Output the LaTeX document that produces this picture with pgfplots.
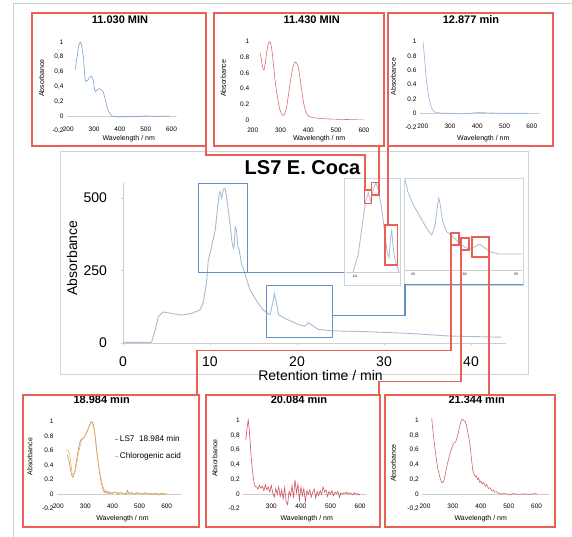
\documentclass[border=0pt]{standalone}
\usepackage{fontspec}
\setmainfont{Liberation Sans}
\usepackage{pgfplots}
\pgfplotsset{compat=1.18}
\definecolor{framec}{RGB}{205,212,222}
\definecolor{chrom}{RGB}{165,188,212}
\definecolor{axgray}{RGB}{205,205,205}
\definecolor{specblue}{RGB}{120,160,215}
\definecolor{specred}{RGB}{215,110,115}
\definecolor{speclblue}{RGB}{145,182,225}
\definecolor{lsseven}{RGB}{200,135,90}
\definecolor{chloro}{RGB}{232,185,95}
\definecolor{specredb}{RGB}{205,85,95}
\definecolor{specredc}{RGB}{210,100,100}
\definecolor{redline}{RGB}{232,96,86}
\definecolor{blueline}{RGB}{100,145,195}
\pgfplotsset{
  spec/.style={scale only axis, anchor=south west,
    axis line style={draw=none}, major tick length=0pt,
    /pgf/number format/assume math mode=true,
    tick label style={font=\fontsize{6.5}{7}\selectfont},
    label style={font=\fontsize{7}{8}\selectfont},
    title style={font=\bfseries\fontsize{11}{12}\selectfont, anchor=center},
    xtick={200,300,400,500,600},
    ytick={-0.2,0,0.2,0.4,0.6,0.8,1},
    yticklabel style={/pgf/number format/fixed,/pgf/number format/precision=1},
    xlabel={Wavelength / nm}, ylabel={Absorbance},
    every axis plot/.append style={line width=0.6pt},
  },
}
\begin{document}
\begin{tikzpicture}
% outer frame
\draw[draw=axgray, line width=0.6pt] (13pt,0pt) -- (13pt,534pt) -- (572pt,534pt);
% main frame
\draw[draw=framec, line width=0.6pt] (60pt,163pt) rectangle (528pt,386pt);

% ---------------- main chromatogram
\begin{axis}[at={(123pt,194pt)}, anchor=south west, scale only axis,
  width=382.8pt, height=159.5pt, xmin=0, xmax=44, ymin=0, ymax=550,
  axis x line*=bottom, axis y line*=left,
  axis line style={draw=axgray, line width=0.6pt},
  xtick={0,10,20,30,40}, ytick={0,250,500},
  tick align=outside, major tick length=2.5pt, tick style={draw=axgray},
  /pgf/number format/assume math mode=true,
  tick label style={font=\fontsize{14}{16}\selectfont},
  xticklabel style={anchor=center, yshift=-16pt},
  yticklabel style={anchor=east, xshift=-10pt},
  title={LS7 E. Coca},
  title style={at={(axis description cs:0.469,1.06)}, anchor=center, font=\bfseries\fontsize{20}{23}\selectfont},
  xlabel={Retention time / min}, ylabel={Absorbance},
  label style={font=\fontsize{14}{16}\selectfont},
  xlabel style={at={(axis description cs:0.516,-0.205)}, anchor=center},
  ylabel style={at={(axis description cs:-0.133,0.533)}, anchor=center},
]
\addplot[chrom, line width=0.9pt] coordinates {
(0,2) (3.2,2) (3.3,4) (3.7,45) (4.06,91) (4.6,107) (5.6,102) (6.7,96) (7.9,102)
(8.85,114) (9.2,137) (9.6,206) (9.8,286) (10.1,321) (10.3,349) (10.6,390)
(10.85,459) (11.07,516) (11.15,522) (11.34,499) (11.53,530) (11.72,533) (11.9,505)
(12.2,436) (12.5,355) (12.68,326) (12.8,338) (12.9,401) (13.05,390) (13.2,332)
(13.35,321) (13.6,275) (14.0,240) (14.6,183) (15.4,143) (16.1,114) (16.9,97)
(17.2,137) (17.4,171) (17.6,143) (17.9,97) (18.6,85) (19.4,74) (20.3,62) (20.9,58)
(21.3,70) (21.8,60) (22.45,47) (24,42) (28,39) (33,33) (37.5,24) (43.5,20)
};
\end{axis}

% ---------------- inset 1 (main peak)
\draw[draw=framec, line width=0.6pt] (344pt,252pt) rectangle (400pt,359pt);
\begin{axis}[at={(344pt,265pt)}, anchor=south west, scale only axis,
  width=56pt, height=94pt, xmin=9.14, xmax=13.62, ymin=292, ymax=546,
  axis x line*=bottom, axis y line=none,
  axis line style={draw=axgray, line width=0.4pt},
  xtick={10}, major tick length=0pt,
  /pgf/number format/assume math mode=true,
  tick label style={font=\fontsize{3.5}{4}\selectfont},
]
\addplot[chrom, line width=0.8pt] coordinates {
(9.86,292) (10.28,340) (10.64,429) (10.9,487) (11.08,506) (11.28,483) (11.48,516)
(11.7,533) (11.88,516) (12.16,462) (12.42,390) (12.6,345) (12.74,331) (12.88,390)
(12.96,403) (13.04,372) (13.16,335) (13.36,308) (13.56,292)
};
\end{axis}

% ---------------- inset 2 (15-25 min)
\draw[draw=framec, line width=0.6pt] (404pt,252pt) rectangle (523pt,359pt);
\begin{axis}[at={(405pt,267pt)}, anchor=south west, scale only axis,
  width=117pt, height=92pt, xmin=14.22, xmax=25.58, ymin=0, ymax=92,
  axis x line*=bottom, axis y line=none,
  axis line style={draw=axgray, line width=0.4pt},
  xtick={15,20,25}, major tick length=0pt,
  /pgf/number format/assume math mode=true,
  tick label style={font=\fontsize{3.5}{4}\selectfont},
]
\addplot[chrom, line width=0.8pt] coordinates {
(14.22,90.7) (14.54,76.7) (15.03,65) (15.68,53.3) (16.33,41.7) (16.82,35) (17.14,45)
(17.36,63.3) (17.5,71.7) (17.62,66.7) (17.88,48.3) (18.27,38.3) (18.91,32.7)
(19.56,26.7) (20.05,22.7) (20.53,20.7) (21.02,23.3) (21.44,26) (21.89,22.7)
(22.48,18.3) (23.28,16) (24.42,16) (25.55,16)
};
\end{axis}

% ---------------- panel 1: 11.030 MIN
\begin{axis}[spec, at={(67pt,406.2pt)}, width=109.7pt, height=96.2pt,
  xmin=195, xmax=620, ymin=-0.2, ymax=1.1,
  /pgf/number format/use comma,
  xticklabel style={anchor=center, yshift=2pt},
  title={11.030 MIN}, title style={at={(axis description cs:0.483,1.089)}},
  xlabel style={at={(axis description cs:0.563,-0.078)}, anchor=center},
  ylabel style={at={(axis description cs:-0.231,0.546)}, anchor=center},
]
\draw[axgray, line width=0.5pt] (axis cs:195,0) -- (axis cs:620,0);
\addplot[specblue] coordinates {
(226,0.62) (234,0.80) (240,0.95) (246,1.00) (251,0.97) (255,0.88) (259,0.78) (263,0.58)
(266,0.47) (270,0.47) (275,0.48) (280,0.51) (285,0.53) (290,0.54) (294,0.51) (298,0.45)
(302,0.35) (306,0.33) (310,0.35) (315,0.36) (320,0.37) (325,0.36) (330,0.35) (336,0.32)
(341,0.25) (346,0.18) (351,0.11) (356,0.06) (362,0.03) (370,0.00) (385,-0.01) (400,-0.01)
(450,-0.01) (500,0.00) (550,-0.005) (590,0.00)
};
\end{axis}

% ---------------- panel 2: 11.430 MIN
\begin{axis}[spec, at={(252.7pt,417pt)}, width=115.4pt, height=86.1pt,
  xmin=200, xmax=615, ymin=0, ymax=1.1,
  ytick={0,0.2,0.4,0.6,0.8,1},
  xticklabel style={anchor=center, yshift=-10.7pt},
  title={11.430 MIN}, title style={at={(axis description cs:0.511,1.092)}},
  xlabel style={at={(axis description cs:0.576,-0.213)}, anchor=center},
  ylabel style={at={(axis description cs:-0.255,0.484)}, anchor=center},
]
\draw[axgray, line width=0.5pt] (axis cs:200,0) -- (axis cs:615,0);
\addplot[specred] coordinates {
(228,0.85) (233,0.72) (237,0.65) (241,0.64) (245,0.72) (250,0.86) (255,0.96) (260,1.00)
(264,0.99) (268,0.92) (272,0.80) (276,0.66) (280,0.52) (285,0.38) (291,0.25) (297,0.14)
(303,0.08) (308,0.06) (312,0.06) (317,0.10) (322,0.16) (327,0.28) (333,0.43) (339,0.57)
(345,0.68) (350,0.73) (354,0.74) (358,0.73) (363,0.69) (368,0.59) (373,0.46) (378,0.33)
(383,0.22) (388,0.14) (394,0.08) (400,0.05) (415,0.03) (430,0.025) (460,0.015)
(500,0.01) (550,0.005) (600,0.0)
};
\end{axis}

% ---------------- panel 3: 12.877 min
\begin{axis}[spec, at={(420pt,409.4pt)}, width=119.9pt, height=93.2pt,
  xmin=190, xmax=630, ymin=-0.2, ymax=1.1,
  xticklabel style={anchor=center, yshift=1.6pt},
  title={12.877 min}, title style={at={(axis description cs:0.425,1.09)}},
  xlabel style={at={(axis description cs:0.528,-0.115)}, anchor=center},
  ylabel style={at={(axis description cs:-0.223,0.546)}, anchor=center},
]
\draw[axgray, line width=0.5pt] (axis cs:190,0) -- (axis cs:630,0);
\addplot[speclblue] coordinates {
(201,1.00) (204,0.88) (206,0.79) (209,0.66) (211,0.56) (214,0.45) (218,0.33) (222,0.23)
(227,0.14) (232,0.08) (236,0.05) (242,0.02) (250,0.01) (275,0.0) (305,0.0) (342,-0.01)
(370,0.0) (402,0.01) (440,0.005) (489,0.0) (540,0.0) (587,0.0)
};
\end{axis}

% ---------------- panel 4: 18.984 min
\begin{axis}[spec, at={(56.9pt,28.5pt)}, width=124.7pt, height=94pt,
  xmin=195, xmax=655, ymin=-0.2, ymax=1.1,
  xticklabel style={anchor=center, yshift=2.5pt},
  title={18.984 min}, title style={at={(axis description cs:0.359,1.09)}},
  xlabel style={at={(axis description cs:0.526,-0.104)}, anchor=center},
  ylabel style={at={(axis description cs:-0.216,0.551)}, anchor=center},
  legend style={at={(axis description cs:0.46,0.80)}, anchor=north west, draw=none, fill=none,
    font=\fontsize{8.2}{9.5}\selectfont, row sep=6pt, inner sep=0pt},
  legend cell align=left,
  legend image code/.code={\draw[#1, line width=0.5pt] (0pt,0pt) -- (3pt,0pt);},
]
\draw[axgray, line width=0.5pt] (axis cs:195,0) -- (axis cs:655,0);
\addplot[lsseven] coordinates {
(234,0.54) (240,0.45) (246,0.32) (252,0.23) (257,0.25) (262,0.33) (268,0.48) (274,0.62)
(280,0.72) (286,0.76) (292,0.77) (298,0.80) (304,0.85) (310,0.90) (316,0.96) (321,1.00)
(326,0.99) (331,0.92) (336,0.80) (341,0.62) (347,0.44) (353,0.28) (359,0.15) (365,0.06)
(370,0.02) (375,0.04) (380,0.01) (385,0.03) (390,0.0) (395,0.02) (400,0.01) (410,0.03)
(420,0.0) (430,0.02) (440,0.01) (450,0.0) (455,0.05) (460,0.01) (470,0.02) (480,0.0)
(490,0.02) (500,0.01) (510,0.0) (520,0.02) (530,0.0) (540,0.01) (550,0.0) (560,0.01)
(570,-0.01) (580,0.01) (590,0.0) (600,0.0)
};
\addlegendentry{LS7~~18.984 min}
\addplot[chloro] coordinates {
(230,0.61) (236,0.60) (242,0.55) (248,0.38) (252,0.27) (256,0.26) (261,0.30) (267,0.40)
(273,0.53) (280,0.66) (286,0.74) (292,0.77) (298,0.80) (304,0.84) (310,0.89) (316,0.95)
(323,1.00) (328,0.98) (333,0.90) (338,0.75) (343,0.57) (350,0.38) (356,0.25) (362,0.14)
(368,0.07) (375,0.04) (385,0.03) (400,0.02) (450,0.01) (500,0.01) (550,0.0) (600,0.0)
};
\addlegendentry{Chlorogenic acid}
\end{axis}

% ---------------- panel 5: 20.084 min
\begin{axis}[spec, at={(243.2pt,28pt)}, width=123.4pt, height=95.7pt,
  xmin=205, xmax=622, ymin=-0.2, ymax=1.1,
  /pgf/number format/use comma,
  xticklabel style={anchor=center, yshift=2.5pt},
  title={20.084 min}, title style={at={(axis description cs:0.452,1.076)}},
  xlabel style={at={(axis description cs:0.515,-0.097)}, anchor=center},
  ylabel style={at={(axis description cs:-0.229,0.53)}, anchor=center},
]
\draw[axgray, line width=0.5pt] (axis cs:205,0) -- (axis cs:622,0);
\addplot[specredb] coordinates {
(214,0.74) (218,0.90) (222,1.01) (225,0.90) (228,0.74) (232,0.50) (236,0.33) (240,0.20)
(243,0.13) (247,0.10) (250,0.10) (255,0.07) (260,0.12) (265,0.08) (270,0.11) (275,0.05)
(280,0.13) (285,0.06) (290,0.10) (295,0.03) (300,0.12) (305,0.02) (310,-0.04) (315,0.08)
(320,0.0) (325,0.10) (330,-0.03) (335,0.06) (340,-0.06) (345,0.09) (350,-0.10) (355,-0.14)
(360,0.04) (365,-0.02) (370,0.12) (375,-0.05) (380,0.20) (385,0.02) (390,0.14) (395,-0.08)
(400,0.10) (405,-0.02) (410,0.08) (415,-0.10) (420,0.05) (425,0.0) (430,0.06) (435,-0.04)
(440,0.03) (445,0.07) (450,-0.05) (455,0.04) (460,-0.02) (465,0.05) (470,0.0) (475,0.10)
(480,0.03) (485,0.06) (490,-0.03) (495,0.04) (500,0.0) (505,0.05) (510,-0.02) (515,0.03)
(520,0.01) (525,0.04) (530,-0.04) (535,0.02) (540,0.0) (545,0.02) (550,0.01) (555,0.03)
(560,0.0) (565,0.02) (570,0.01) (575,-0.01) (580,0.02) (585,0.0) (590,0.01) (595,-0.01) (600,0.0)
};
\end{axis}

% ---------------- panel 6: 21.344 min
\begin{axis}[spec, at={(422.2pt,28pt)}, width=127pt, height=95.7pt,
  xmin=190, xmax=645, ymin=-0.2, ymax=1.1,
  /pgf/number format/use comma,
  xticklabel style={anchor=center, yshift=2.5pt},
  title={21.344 min}, title style={at={(axis description cs:0.429,1.076)}},
  xlabel style={at={(axis description cs:0.461,-0.097)}, anchor=center},
  ylabel style={at={(axis description cs:-0.228,0.478)}, anchor=center},
]
\draw[axgray, line width=0.5pt] (axis cs:190,0) -- (axis cs:645,0);
\addplot[specredc] coordinates {
(224,1.03) (228,0.88) (232,0.74) (237,0.58) (242,0.44) (247,0.33) (252,0.25) (256,0.20)
(260,0.16) (264,0.16) (268,0.19) (273,0.28) (278,0.375) (284,0.47) (290,0.56) (296,0.63)
(302,0.69) (306,0.70) (310,0.71) (314,0.76) (319,0.83) (324,0.92) (329,0.99) (333,1.02)
(336,1.01) (340,1.00) (344,0.99) (348,0.94) (352,0.87) (357,0.77) (362,0.65) (366,0.50)
(371,0.33) (375,0.28) (380,0.24) (384,0.25) (388,0.20) (392,0.22) (396,0.16) (400,0.18)
(405,0.14) (410,0.16) (416,0.11) (421,0.13) (427,0.08) (433,0.09) (438,0.05) (444,0.06)
(450,0.03) (457,0.035) (462,0.01) (468,0.02) (475,0.0) (482,0.01) (493,0.005) (505,-0.01)
(515,0.01) (530,0.0) (553,0.005) (575,0.0) (600,0.01)
};
\end{axis}

% ---------------- decorations (drawn last)
\begin{scope}[line width=1.1pt]
% blue boxes and connectors
\draw[color=blueline] (198.3pt,264.7pt) rectangle (247.7pt,353.7pt);
\draw[color=blueline] (266.7pt,199.7pt) rectangle (332.3pt,251.3pt);
\draw[color=blueline] (247.7pt,264.7pt) -- (344pt,264.7pt);
\draw[color=blueline] (332.3pt,221.5pt) -- (405pt,221.5pt) -- (405pt,252.5pt) -- (522.7pt,252.5pt);
% red small boxes
\draw[color=redline] (364.3pt,333.7pt) rectangle (371.7pt,347pt);
\draw[color=redline] (371.7pt,342pt) rectangle (379pt,354.3pt);
\draw[color=redline] (385pt,272pt) rectangle (397.3pt,312pt);
\draw[color=redline] (451pt,292pt) rectangle (459pt,304pt);
\draw[color=redline] (461pt,287pt) rectangle (469pt,299pt);
\draw[color=redline] (472pt,280pt) rectangle (489pt,300pt);
% red connectors
\draw[color=redline] (206pt,391pt) -- (206pt,382pt) -- (365pt,382pt) -- (365pt,347pt);
\draw[color=redline] (379pt,391pt) -- (379pt,354.3pt);
\draw[color=redline] (388pt,391pt) -- (388pt,312pt);
\draw[color=redline] (451pt,292pt) -- (451pt,186.3pt) -- (197pt,186.3pt) -- (197pt,142pt);
\draw[color=redline] (461pt,287pt) -- (461pt,155.3pt) -- (379pt,155.3pt) -- (379pt,142pt);
\draw[color=redline] (489pt,280pt) -- (489pt,142pt);
% panel boxes
\draw[color=redline] (32pt,391pt) rectangle (206pt,524pt);
\draw[color=redline] (214pt,391pt) rectangle (384pt,524pt);
\draw[color=redline] (388pt,391pt) rectangle (553pt,524pt);
\draw[color=redline] (23pt,10pt) rectangle (199pt,142pt);
\draw[color=redline] (206pt,10pt) rectangle (380pt,142pt);
\draw[color=redline] (385pt,10pt) rectangle (555pt,142pt);
\end{scope}

\pgfresetboundingbox
\path[use as bounding box] (0pt,0pt) rectangle (572pt,537pt);
\end{tikzpicture}
\end{document}
